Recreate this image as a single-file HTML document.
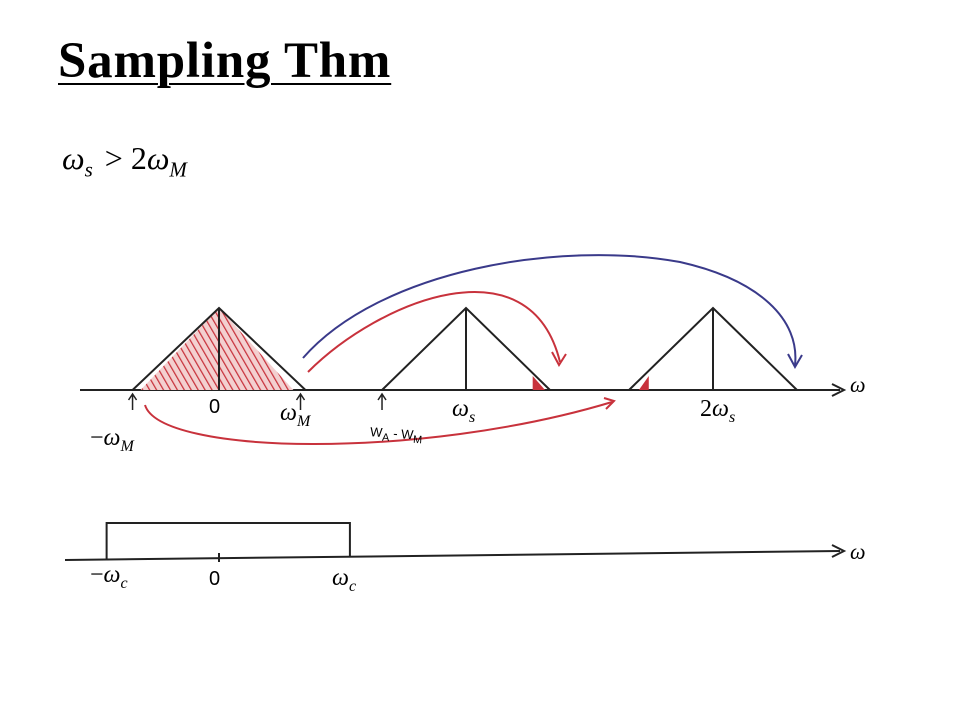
<!DOCTYPE html>
<html><head><meta charset="utf-8"><style>
html,body{margin:0;padding:0;background:#fff;}
#wrap{position:relative;width:960px;height:720px;overflow:hidden;background:#fff;font-family:"Liberation Serif",serif;}
.t{position:absolute;white-space:nowrap;}
</style></head><body>
<div id="wrap">
<div class="t" style="left:58px;top:32px;font-size:51px;letter-spacing:0.8px;font-weight:bold;text-decoration:underline;text-decoration-thickness:2px;text-underline-offset:6px;">Sampling Thm</div>
<div class="t" style="left:62px;top:140px;font-size:32px;font-style:italic;">ω<sub style="font-size:21px">s</sub><span style="font-style:normal;margin:0 8px 0 12px;">&gt;</span><span style="font-style:normal">2</span>ω<sub style="font-size:21px">M</sub></div>
<svg id="chart" width="960" height="720" style="position:absolute;left:0;top:0;">
<defs>
<pattern id="hatch" patternUnits="userSpaceOnUse" width="6" height="6" patternTransform="rotate(-30)">
<rect width="6" height="6" fill="#f3d0d0"/><line x1="0" y1="0" x2="0" y2="6" stroke="#c8323c" stroke-width="2.5"/></pattern>
</defs>
<g id="marks"></g>
</svg>
<div class="t" style="left:850px;top:372px;font-size:22px;font-style:italic;">ω</div>
<div class="t" style="left:209px;top:396px;font-size:20px;font-family:'Liberation Sans',sans-serif;">0</div>
<div class="t" style="left:280px;top:400px;font-size:24px;font-style:italic;">ω<sub style="font-size:16px">M</sub></div>
<div class="t" style="left:90px;top:425px;font-size:24px;font-style:italic;"><span style="font-style:normal">−</span>ω<sub style="font-size:16px">M</sub></div>
<div class="t" style="left:452px;top:396px;font-size:24px;font-style:italic;">ω<sub style="font-size:16px">s</sub></div>
<div class="t" style="left:700px;top:396px;font-size:24px;font-style:italic;"><span style="font-style:normal">2</span>ω<sub style="font-size:16px">s</sub></div>
<div class="t" style="left:370px;top:426px;font-size:13px;font-family:'Liberation Sans',sans-serif;transform:rotate(4deg);">W<sub>A</sub> - W<sub>M</sub></div>
<div class="t" style="left:850px;top:539px;font-size:22px;font-style:italic;">ω</div>
<div class="t" style="left:90px;top:562px;font-size:24px;font-style:italic;"><span style="font-style:normal">−</span>ω<sub style="font-size:16px">c</sub></div>
<div class="t" style="left:209px;top:568px;font-size:20px;font-family:'Liberation Sans',sans-serif;">0</div>
<div class="t" style="left:332px;top:565px;font-size:24px;font-style:italic;">ω<sub style="font-size:16px">c</sub></div>
</div>
<script>
const centers = [0, 1, 2];          // spectrum replicas at k*ωs
const halfWidth = [0.35, 0.34, 0.34]; // ωM relative to ωs
const heights = [1, 1, 1];
const filterCutoff = [-0.455, 0.53]; // -ωc, ωc relative to ωs

const x0 = 219, unit = 247, yBase = 390, hPx = 82;
const xs = v => x0 + v * unit;
const ys = v => yBase - v * hPx;
const NS = "http://www.w3.org/2000/svg";
const g = document.getElementById('marks');
function mk(tag, attrs){const e=document.createElementNS(NS,tag);for(const k in attrs)e.setAttribute(k,attrs[k]);g.appendChild(e);return e;}

let e;
e = mk('line',{x1:80,y1:390,x2:840,y2:390,stroke:'#222','stroke-width':2});


e = mk('path',{d:'M832,384 L844,390 L832,396',fill:'none',stroke:'#222','stroke-width':2});



centers.forEach((c,i)=>{
  const l=xs(c-halfWidth[i]), r=xs(c+halfWidth[i]), m=xs(c), top=ys(heights[i]);
  if(i===0){
    const f = mk('path',{d:`M${l+8},${yBase} L${m},${top} L${r-12},${yBase} Z`,fill:'url(#hatch)'});
    
    
  }
  const t = mk('path',{d:`M${l},${yBase} L${m},${top} L${r},${yBase} M${m},${top} L${m},${yBase}`,fill:'none',stroke:'#222','stroke-width':2});
  
  
});
e = mk('path',{d:`M${xs(1.27)},${yBase} L${xs(1.27)},${yBase-14} L${xs(1.32)},${yBase} Z`,fill:'#c8323c'});


e = mk('path',{d:`M${xs(1.7)},${yBase} L${xs(1.74)},${yBase-14} L${xs(1.74)},${yBase} Z`,fill:'#c8323c'});


[-0.35,0.33,0.66].forEach((v,i)=>{
  const x=xs(v);
  const a=mk('path',{d:`M${x},${yBase+20} L${x},${yBase+5} M${x-4},${yBase+10} L${x},${yBase+4} L${x+4},${yBase+10}`,fill:'none',stroke:'#222','stroke-width':1.5});
  
  
});
e = mk('path',{d:'M145,405 C160,455 420,460 612,402',fill:'none',stroke:'#c8323c','stroke-width':2});


e = mk('path',{d:'M604,398 L614,401 L606,409',fill:'none',stroke:'#c8323c','stroke-width':2});


e = mk('path',{d:'M308,372 C380,300 530,240 560,362',fill:'none',stroke:'#c8323c','stroke-width':2});


e = mk('path',{d:'M552,352 L559,365 L566,354',fill:'none',stroke:'#c8323c','stroke-width':2});


e = mk('path',{d:'M303,358 C380,270 560,240 680,262 C760,280 800,320 795,365',fill:'none',stroke:'#3a3a8a','stroke-width':2});


e = mk('path',{d:'M788,354 L795,367 L802,355',fill:'none',stroke:'#3a3a8a','stroke-width':2});



e = mk('line',{x1:65,y1:560,x2:840,y2:551,stroke:'#222','stroke-width':2});


e = mk('path',{d:'M832,545 L844,551 L832,557',fill:'none',stroke:'#222','stroke-width':2});


const fl=xs(filterCutoff[0]), fr=xs(filterCutoff[1]);
e = mk('path',{d:`M${fl},559 L${fl},523 L${fr},523 L${fr},556`,fill:'none',stroke:'#222','stroke-width':2});


e = mk('line',{x1:xs(0),y1:553,x2:xs(0),y2:562,stroke:'#222','stroke-width':2});


</script>
</body></html>
